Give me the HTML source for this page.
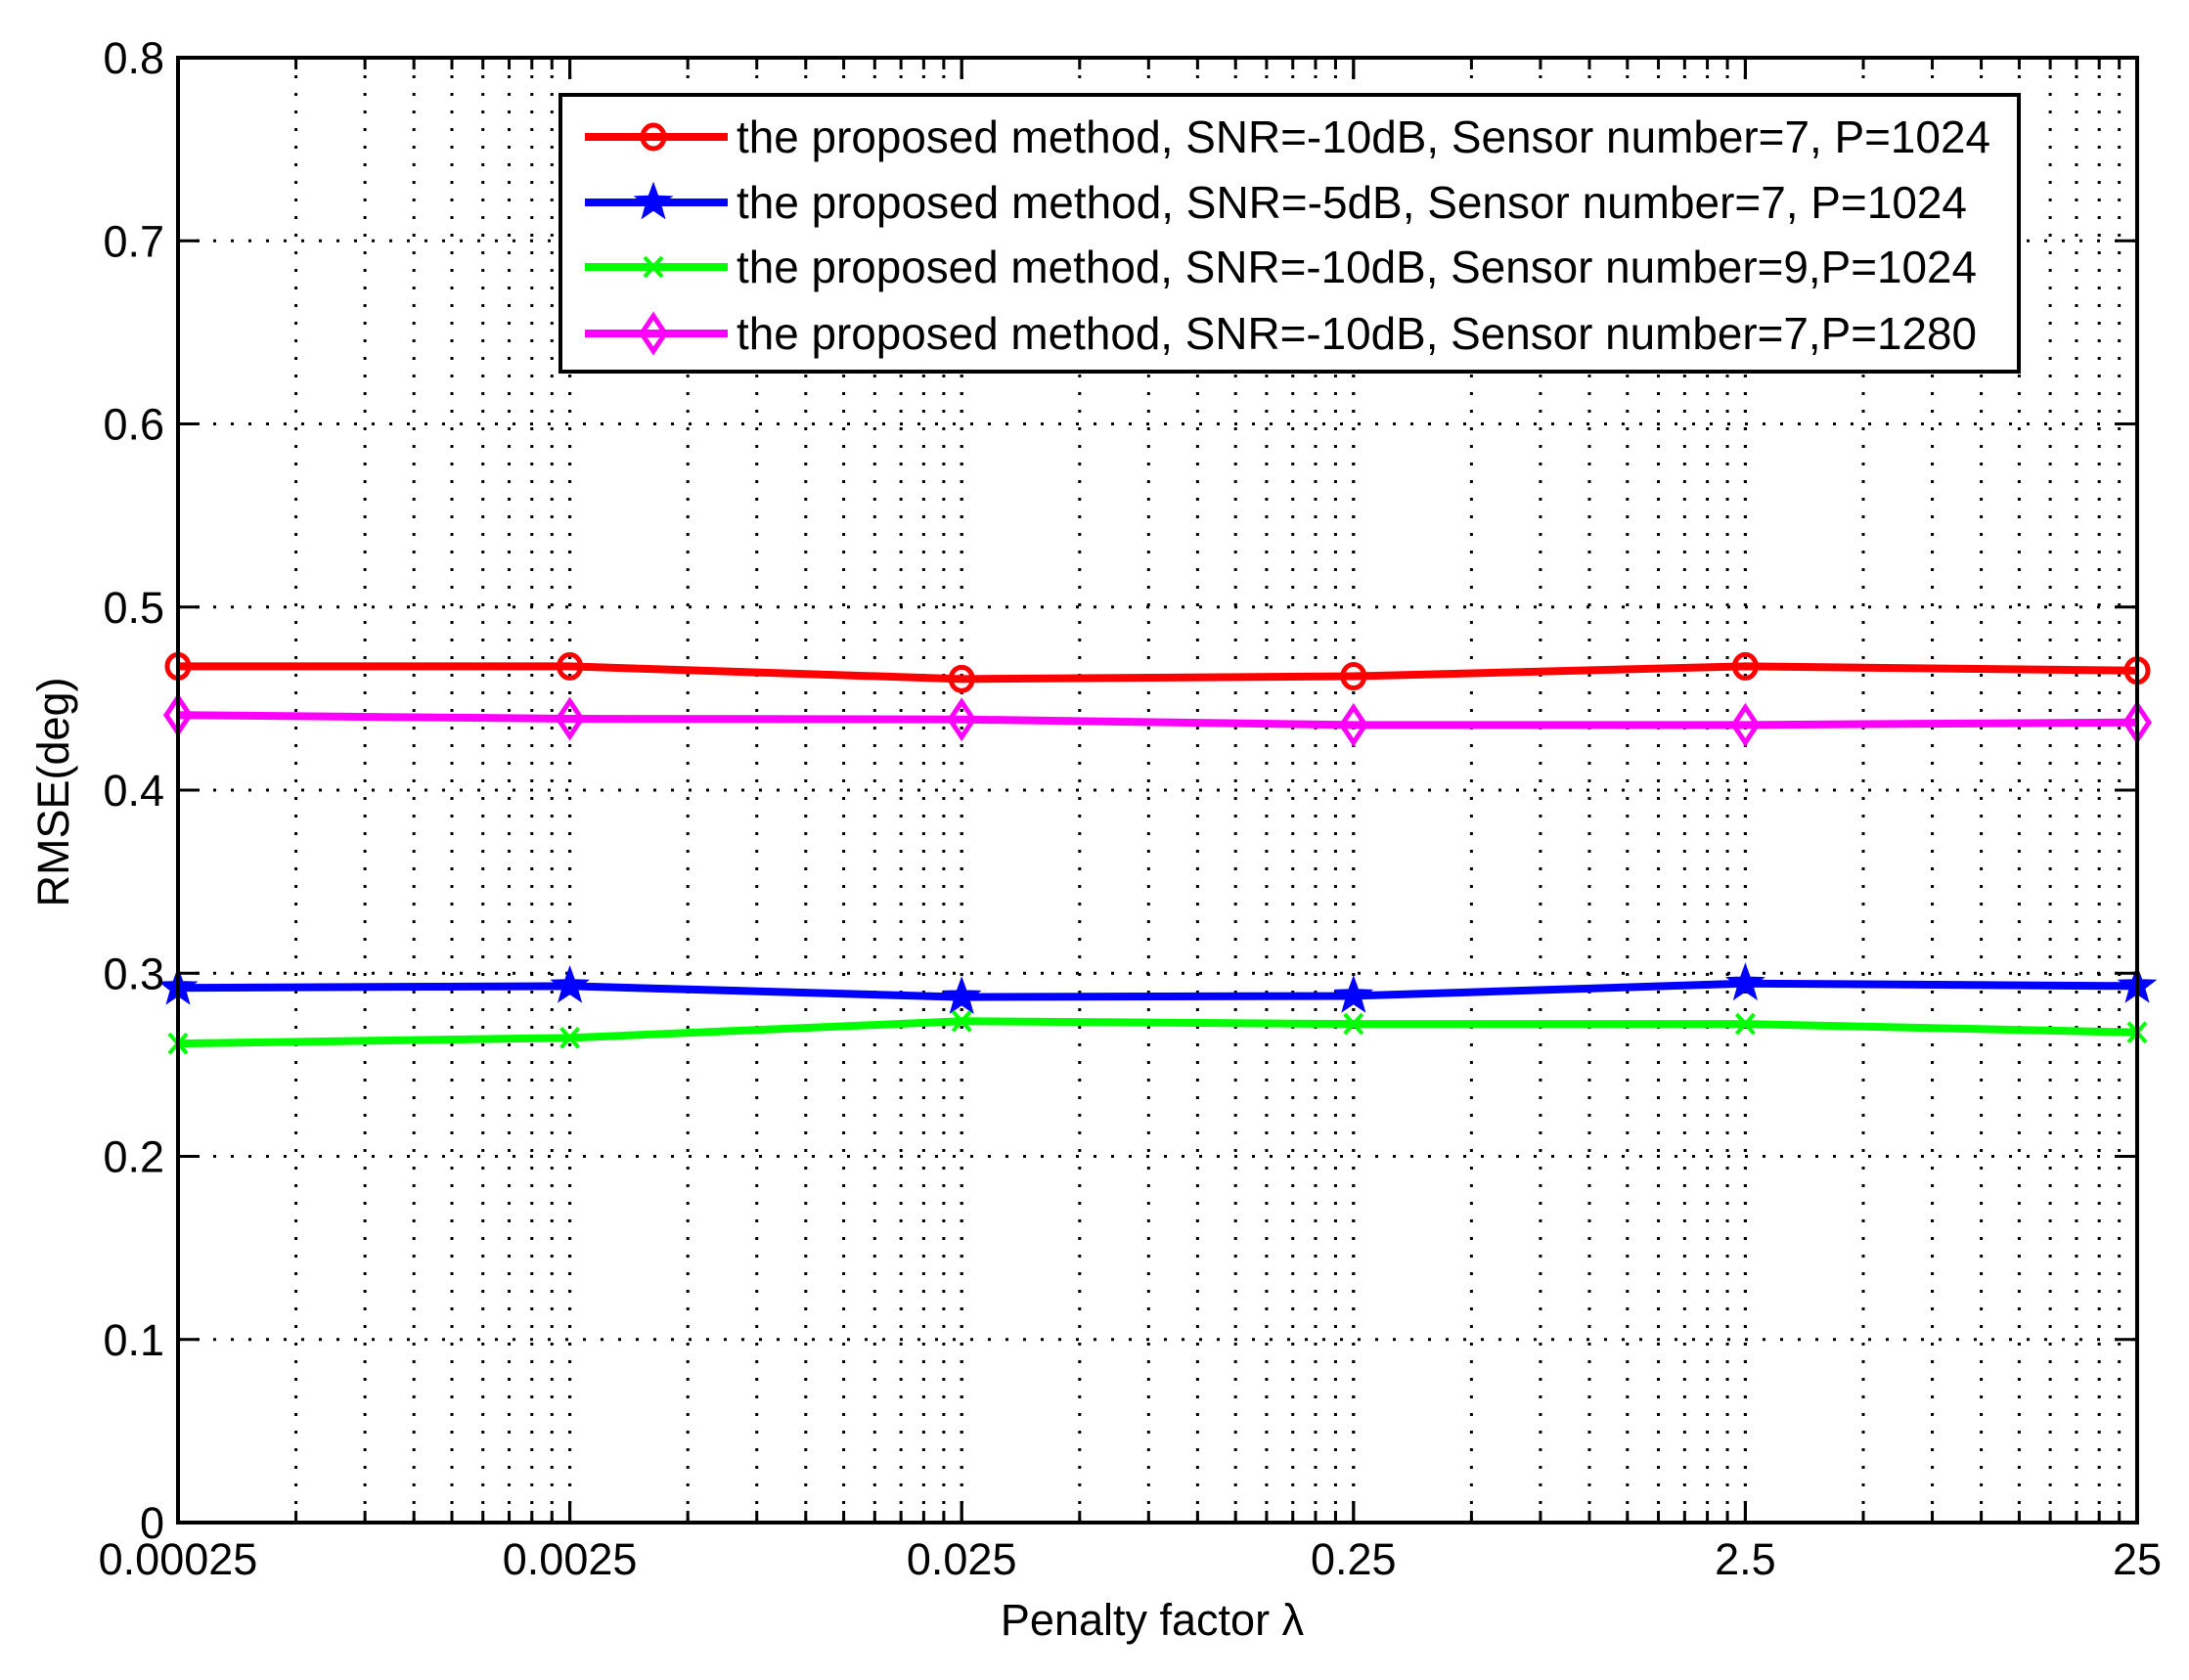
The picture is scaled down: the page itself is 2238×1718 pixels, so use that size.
<!DOCTYPE html>
<html><head><meta charset="utf-8"><style>html,body{margin:0;padding:0;background:#fff}svg{display:block}</style></head>
<body>
<svg id="s" xmlns="http://www.w3.org/2000/svg" width="2238" height="1718" viewBox="0 0 2238 1718" font-family="Liberation Sans, sans-serif">
<rect width="2238" height="1718" fill="#fff"/>
<g id="grid"></g>
<g id="series"></g>
<rect x="182" y="59" width="2003" height="1498" fill="none" stroke="#000" stroke-width="4"/>
<g id="ticks"></g>
<g id="labels" font-size="45" fill="#000"></g>
<text x="1178" y="1672" font-size="45" text-anchor="middle">Penalty factor λ</text>
<text transform="translate(70,810) rotate(-90)" font-size="45" text-anchor="middle">RMSE(deg)</text>
<g id="legend"></g>
</svg>
<script>
var NS="http://www.w3.org/2000/svg";
function el(p,t,a,txt){var e=document.createElementNS(NS,t);for(var k in a)e.setAttribute(k,a[k]);if(txt)e.textContent=txt;document.getElementById(p).appendChild(e);return e;}
var L=182,R=2185,T=59,B=1557,D=(R-L)/5;
function X(i){return L+i*D;} function Y(v){return B-v*(B-T)/0.8;}
for(var d=0;d<5;d++){for(var m=1;m<=10;m++){var x=X(d)+Math.log10(m)*D; if(m==1&&d==0)continue; if(m==10&&d==4)continue;
 el("grid","line",{x1:x,y1:T,x2:x,y2:B,stroke:"#000","stroke-width":3,"stroke-dasharray":"3 15"});
 var len=(m==1||m==10)?22:12;
 el("ticks","line",{x1:x,y1:B,x2:x,y2:B-len,stroke:"#000","stroke-width":3});
 el("ticks","line",{x1:x,y1:T,x2:x,y2:T+len,stroke:"#000","stroke-width":3});
}}
for(var k=1;k<8;k++){var y=Y(k/10);
 el("grid","line",{x1:L,y1:y,x2:R,y2:y,stroke:"#000","stroke-width":3,"stroke-dasharray":"3 15"});
 el("ticks","line",{x1:L,y1:y,x2:L+22,y2:y,stroke:"#000","stroke-width":3});
 el("ticks","line",{x1:R,y1:y,x2:R-22,y2:y,stroke:"#000","stroke-width":3});}
for(var k=0;k<=8;k++){el("labels","text",{x:168,y:Y(k/10)+16,"text-anchor":"end"},k==0?"0":(k/10).toFixed(1));}
var xl=["0.00025","0.0025","0.025","0.25","2.5","25"];
for(var i=0;i<6;i++)el("labels","text",{x:X(i),y:1610,"text-anchor":"middle"},xl[i]);
var S=[
 {c:"#ff0000",m:"o",v:[0.4676,0.4676,0.4607,0.4622,0.4676,0.4653]},
 {c:"#ff00ff",m:"d",v:[0.441,0.439,0.4386,0.4356,0.4356,0.437]},
 {c:"#0000ff",m:"p",v:[0.292,0.293,0.287,0.2876,0.2944,0.293]},
 {c:"#00ff00",m:"x",v:[0.2616,0.2647,0.2738,0.2723,0.2723,0.2677]}];
function marker(g,m,x,y,c){
 if(m=="o")el(g,"ellipse",{cx:x,cy:y,rx:11,ry:12,fill:"none",stroke:c,"stroke-width":5});
 if(m=="d")el(g,"polygon",{points:(x)+","+(y-18)+" "+(x+12)+","+y+" "+x+","+(y+18)+" "+(x-12)+","+y,fill:"none",stroke:c,"stroke-width":5});
 if(m=="p"){var p=[];for(var i=0;i<10;i++){var r=i%2?7:17,a=-Math.PI/2+i*Math.PI/5;p.push((x+r*Math.cos(a)).toFixed(1)+","+(y+r*Math.sin(a)).toFixed(1));}el(g,"polygon",{points:p.join(" "),fill:c,stroke:c,"stroke-width":3});}
 if(m=="x"){el(g,"path",{d:"M"+(x-9)+" "+(y-10)+"L"+(x+9)+" "+(y+10)+"M"+(x+9)+" "+(y-10)+"L"+(x-9)+" "+(y+10),stroke:c,"stroke-width":4});}
}
S.forEach(function(s){var pts=s.v.map(function(v,i){return X(i)+","+Y(v)}).join(" ");
 el("series","polyline",{points:pts,fill:"none",stroke:s.c,"stroke-width":8});
 s.v.forEach(function(v,i){marker("series",s.m,X(i),Y(v),s.c);});});
el("legend","rect",{x:573,y:97,width:1491,height:283,fill:"#fff",stroke:"#000","stroke-width":4});
var LG=[["#ff0000","o","the proposed method, SNR=-10dB, Sensor number=7, P=1024",1282],
 ["#0000ff","p","the proposed method, SNR=-5dB, Sensor number=7, P=1024",1258],
 ["#00ff00","x","the proposed method, SNR=-10dB, Sensor number=9,P=1024",1268],
 ["#ff00ff","d","the proposed method, SNR=-10dB, Sensor number=7,P=1280",1268]];
var ly=[140,207,273,341];
LG.forEach(function(l,i){el("legend","line",{x1:598,y1:ly[i],x2:744,y2:ly[i],stroke:l[0],"stroke-width":8});
 marker("legend",l[1],668,ly[i],l[0]);
 el("legend","text",{x:753,y:ly[i]+16,"font-size":46,textLength:l[3],lengthAdjust:"spacingAndGlyphs"},l[2]);});
</script>
</body></html>
